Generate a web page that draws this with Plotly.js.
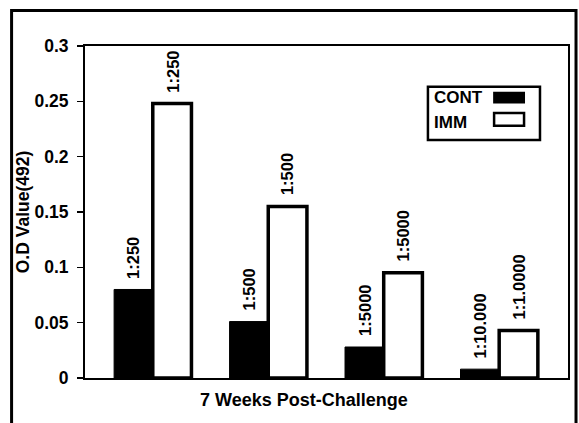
<!DOCTYPE html>
<html>
<head>
<meta charset="utf-8">
<script src="https://cdn.plot.ly/plotly-3.0.1.min.js"></script>
<style>
  html, body { margin: 0; padding: 0; background: #ffffff; }
  #chart { width: 579px; height: 423px; }
</style>
</head>
<body>
<div id="chart"></div>
<script>
// ---- data ----
const groups = ['Group 1', 'Group 2', 'Group 3', 'Group 4'];
const contName = 'CONT';
const immName = 'IMM';
const contValues = [0.080, 0.051, 0.028, 0.008];
const immValues = [0.248, 0.155, 0.095, 0.043];
const contLabels = ['1:250', '1:500', '1:5000', '1:10.000'];
const immLabels = ['1:250', '1:500', '1:5000', '1:1.0000'];
const yTickVals = [0, 0.05, 0.1, 0.15, 0.2, 0.25, 0.3];
const yTickText = ['0', '0.05', '0.1', '0.15', '0.2', '0.25', '0.3'];
const xTitle = '7 Weeks Post-Challenge';
const yTitle = 'O.D Value(492)';

// ---- style ----
const FONT = 'Liberation Sans, Arial, Helvetica, sans-serif';
const fontB = (size) => ({ family: FONT, size: size, color: '#000000', weight: 'bold' });
const BARGAP = 0.33;
const half = (1 - BARGAP) / 4; // offset of each bar centre from group centre

const traces = [
  {
    type: 'bar', name: contName, x: groups, y: contValues,
    marker: { color: '#000000', line: { color: '#000000', width: 1 } },
    hoverinfo: 'skip'
  },
  {
    type: 'bar', name: immName, x: groups, y: immValues,
    marker: { color: '#ffffff', line: { color: '#000000', width: 3.5 } },
    hoverinfo: 'skip'
  }
];

const annotations = [];
contValues.forEach((v, i) => annotations.push({
  x: i - half, y: v, xref: 'x', yref: 'y', text: contLabels[i], showarrow: false,
  textangle: -90, xanchor: 'center', yanchor: 'bottom', yshift: 9, font: fontB(16.5)
}));
immValues.forEach((v, i) => annotations.push({
  x: i + half, y: v, xref: 'x', yref: 'y', text: immLabels[i], showarrow: false,
  textangle: -90, xanchor: 'center', yanchor: 'bottom', yshift: 9, font: fontB(16.5)
}));
// x-axis title
annotations.push({
  x: 0.453, y: -0.067, xref: 'paper', yref: 'paper', text: xTitle, showarrow: false,
  xanchor: 'center', yanchor: 'middle', font: fontB(18)
});
// custom legend (symbol to the right of the name, as in the original)
annotations.push({
  x: 0.718, y: 0.845, xref: 'paper', yref: 'paper', text: contName, showarrow: false,
  xanchor: 'left', yanchor: 'middle', font: fontB(17)
});
annotations.push({
  x: 0.718, y: 0.770, xref: 'paper', yref: 'paper', text: immName, showarrow: false,
  xanchor: 'left', yanchor: 'middle', font: fontB(17)
});

const shapes = [
  // outer figure frame
  { type: 'rect', xref: 'paper', yref: 'paper', x0: -0.152, x1: 1.0166, y0: -0.25, y1: 1.107,
    line: { color: '#000000', width: 3 }, fillcolor: 'rgba(0,0,0,0)' },
  // legend box
  { type: 'rect', xref: 'paper', yref: 'paper', x0: 0.710, x1: 0.942, y0: 0.717, y1: 0.877,
    line: { color: '#000000', width: 2.5 }, fillcolor: '#ffffff', layer: 'below' },
  // CONT symbol
  { type: 'rect', xref: 'paper', yref: 'paper', x0: 0.845, x1: 0.911, y0: 0.827, y1: 0.862,
    line: { color: '#000000', width: 0 }, fillcolor: '#000000' },
  // IMM symbol
  { type: 'rect', xref: 'paper', yref: 'paper', x0: 0.847, x1: 0.909, y0: 0.760, y1: 0.798,
    line: { color: '#000000', width: 2.5 }, fillcolor: '#ffffff' }
];

const layout = {
  width: 579, height: 423,
  margin: { l: 85, r: 11, t: 46, b: 45, pad: 0 },
  paper_bgcolor: '#ffffff', plot_bgcolor: '#ffffff',
  barmode: 'group', bargap: BARGAP, bargroupgap: 0,
  showlegend: false,
  xaxis: {
    type: 'category', range: [-0.587, 3.596], showticklabels: false, ticks: '',
    showgrid: false, zeroline: false, showline: true, linecolor: '#000000', linewidth: 2,
    mirror: true, fixedrange: true
  },
  yaxis: {
    range: [0, 0.3], tickmode: 'array', tickvals: yTickVals, ticktext: yTickText,
    ticks: 'outside', ticklen: 6, tickwidth: 1.5, tickcolor: '#000000',
    ticklabelstandoff: 5,
    tickfont: fontB(17.5), showgrid: false, zeroline: false,
    showline: true, linecolor: '#000000', linewidth: 2, mirror: true,
    title: { text: yTitle, font: fontB(17.5), standoff: 0 }, fixedrange: true
  },
  annotations: annotations,
  shapes: shapes
};

Plotly.newPlot('chart', traces, layout, { displayModeBar: false, staticPlot: true });
</script>
</body>
</html>
